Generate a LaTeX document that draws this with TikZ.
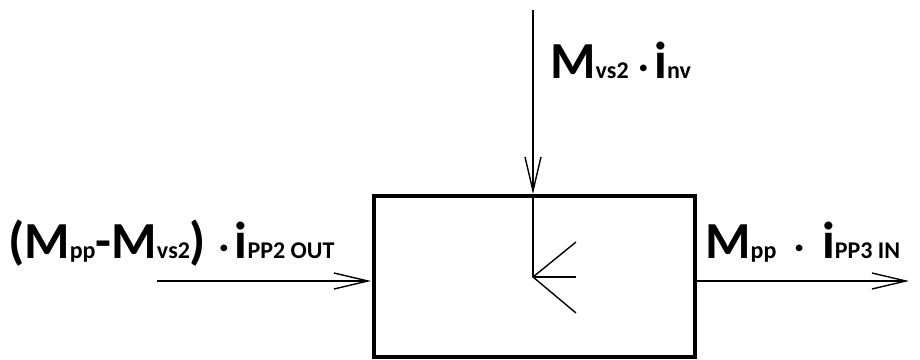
\documentclass[tikz,border=0pt]{standalone}
\usepackage{fontspec}
\setmainfont{Carlito}
\usetikzlibrary{arrows.meta}
\newcommand{\bigtxt}[1]{{\fontsize{52}{56}\selectfont #1}}
\newcommand{\smltxt}[1]{{\fontsize{24}{28}\selectfont #1}}
\newcommand{\cdotsym}{{\fontsize{36}{38}\selectfont\textperiodcentered}}
\tikzset{
  flow/.style={line width=1.4pt, -{Straight Barb[length=34pt,width=16pt,line width=1.4pt]}},
  thinline/.style={line width=1.4pt},
  lbl/.style={anchor=base west, inner sep=0pt, font=\bfseries},
  block/.style={draw, line width=4pt, minimum width=321pt, minimum height=161pt, inner sep=0pt}
}
\begin{document}
\begin{tikzpicture}[x=1pt,y=-1pt]
\useasboundingbox (0,0) rectangle (920,359);
\node[block, anchor=north west] (box) at (372,194) {};
\coordinate (topstart) at (533,10);
\coordinate (toptip) at (533,194);
\coordinate (fork) at (533,277);
\coordinate (f1) at (576,242);
\coordinate (f2) at (576,277);
\coordinate (f3) at (576,313);
\coordinate (lstart) at (157,281);
\coordinate (ltip) at (371,281);
\coordinate (rstart) at (694,281);
\coordinate (rtip) at (909,281);
\draw[flow] (topstart) -- (toptip);
\draw[thinline] (toptip) -- (fork);
\draw[thinline] (f1) -- (fork) -- (f3);
\draw[thinline] (fork) -- (f2);
\draw[flow] (lstart) -- (ltip);
\draw[flow] (rstart) -- (rtip);
\node[lbl] (lefttext) at (8,258) {\bigtxt{(M}\smltxt{pp}\bigtxt{-M}\smltxt{vs2}\bigtxt{)}\hspace{13pt}\cdotsym\hspace{6pt}\bigtxt{i}\smltxt{PP2 OUT}};
\node[lbl] (toptext) at (550,78) {\bigtxt{M}\smltxt{vs2}\hspace{10pt}\cdotsym\hspace{6pt}\bigtxt{i}\smltxt{nv}};
\node[lbl] (righttext) at (705,258) {\bigtxt{M}\smltxt{pp}\hspace{18pt}\cdotsym\hspace{18pt}\bigtxt{i}\smltxt{PP3 IN}};
\end{tikzpicture}
\end{document}
